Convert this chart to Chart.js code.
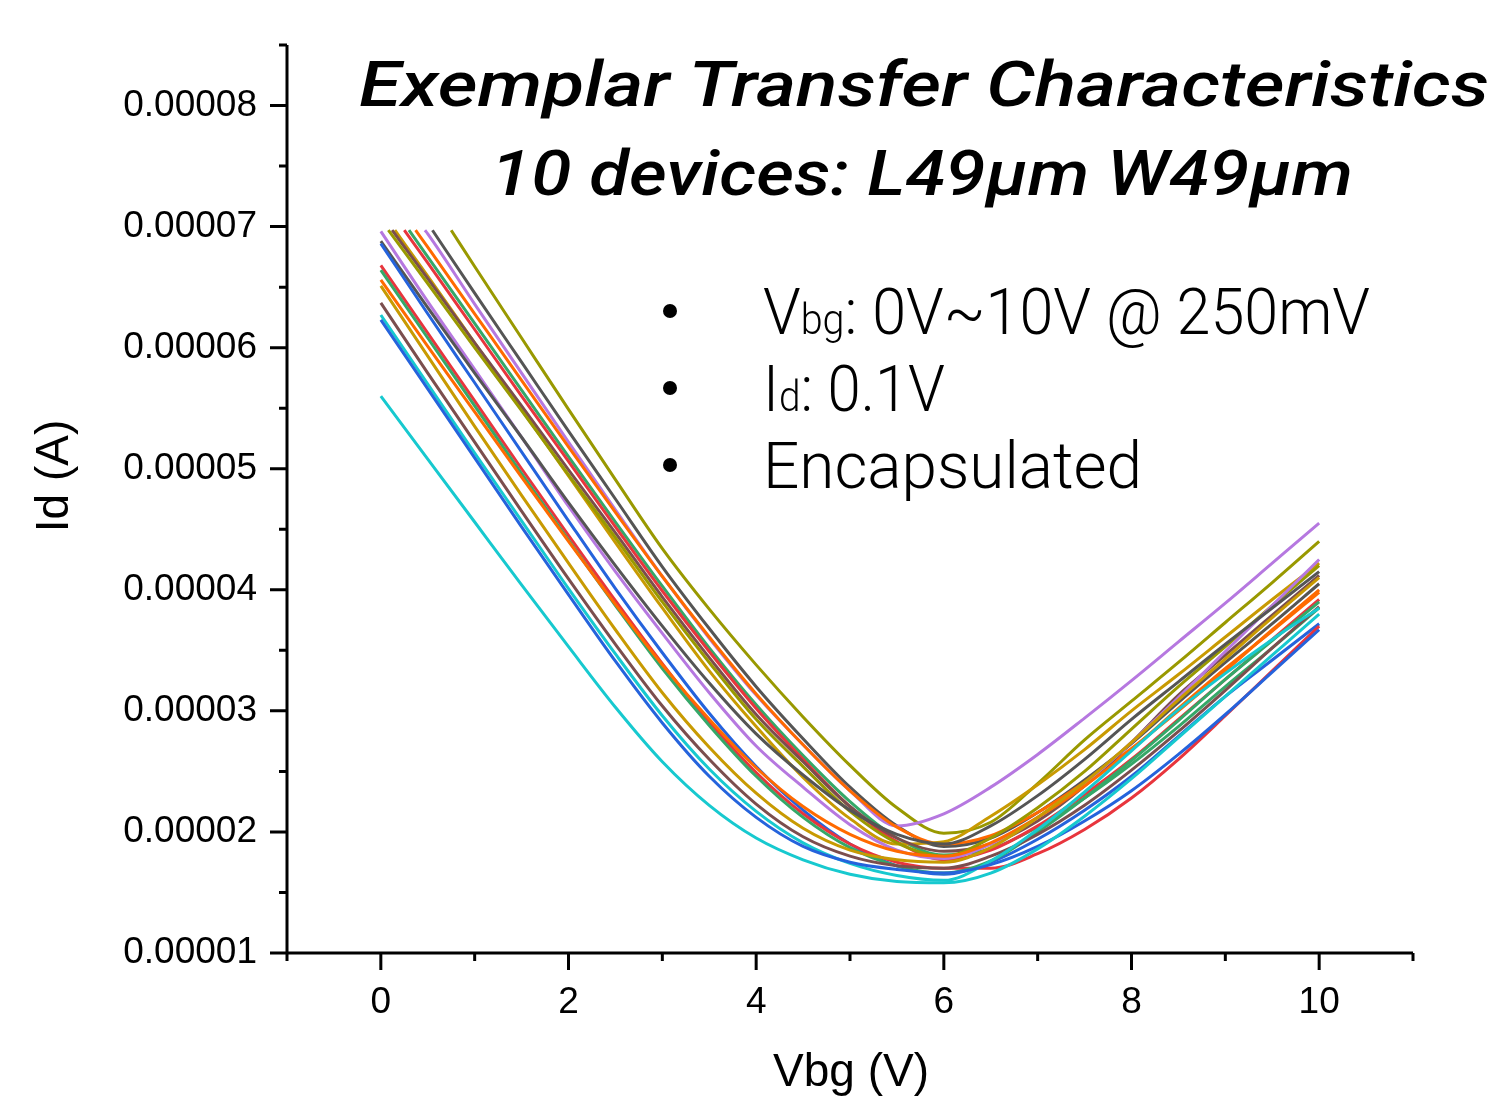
<!DOCTYPE html>
<html>
<head>
<meta charset="utf-8">
<script src="https://cdn.jsdelivr.net/npm/chart.js@4.4.1/dist/chart.umd.min.js"></script>
<style>
  html, body { margin: 0; padding: 0; background: #fff; }
  canvas { display: block; }
</style>
</head>
<body>
<canvas id="transferChart" width="1496" height="1098"></canvas>
<script>
// Vbg sweep (V), 0.5 V grid
const vbg = [0, 0.5, 1, 1.5, 2, 2.5, 3, 3.5, 4, 4.5, 5, 5.5, 6, 6.5, 7, 7.5, 8, 8.5, 9, 9.5, 10];

// Id in units of 1e-5 A; null = trace is above the plotted window there
const cyan1     = [5.60, 5.08, 4.56, 4.04, 3.53, 3.03, 2.58, 2.22, 1.95, 1.77, 1.65, 1.59, 1.58, 1.66, 1.86, 2.13, 2.44, 2.78, 3.12, 3.46, 3.80];
const cyan2     = [6.27, 5.70, 5.13, 4.57, 4.01, 3.47, 2.96, 2.52, 2.17, 1.91, 1.74, 1.64, 1.60, 1.76, 2.02, 2.33, 2.67, 3.01, 3.31, 3.59, 3.85];
const blue1     = [6.23, 5.66, 5.09, 4.52, 3.96, 3.41, 2.90, 2.46, 2.12, 1.88, 1.75, 1.69, 1.66, 1.73, 1.88, 2.09, 2.34, 2.64, 2.97, 3.32, 3.67];
const blue2     = [6.86, 6.28, 5.71, 5.14, 4.57, 4.01, 3.48, 2.98, 2.54, 2.18, 1.90, 1.72, 1.65, 1.75, 1.94, 2.18, 2.46, 2.79, 3.12, 3.42, 3.72];
const red1      = [6.68, 6.12, 5.56, 5.00, 4.45, 3.91, 3.39, 2.91, 2.49, 2.15, 1.90, 1.75, 1.70, 1.70, 1.82, 2.02, 2.28, 2.60, 2.96, 3.33, 3.70];
const red2      = [null, 6.70, 6.15, 5.60, 5.06, 4.52, 3.99, 3.49, 3.02, 2.60, 2.21, 1.92, 1.77, 1.85, 2.05, 2.31, 2.60, 2.93, 3.26, 3.59, 3.92];
const green1    = [6.64, 6.08, 5.52, 4.96, 4.41, 3.87, 3.35, 2.88, 2.46, 2.12, 1.87, 1.72, 1.66, 1.76, 2.00, 2.28, 2.59, 2.92, 3.26, 3.58, 3.90];
const green2    = [null, 6.75, 6.20, 5.65, 5.10, 4.56, 4.03, 3.52, 3.05, 2.63, 2.25, 1.95, 1.81, 1.86, 2.04, 2.28, 2.56, 2.87, 3.20, 3.52, 3.85];
const gold1     = [6.51, 5.93, 5.35, 4.78, 4.22, 3.67, 3.15, 2.70, 2.32, 2.03, 1.85, 1.77, 1.75, 1.87, 2.12, 2.41, 2.74, 3.09, 3.43, 3.77, 4.10];
const gold2     = [null, 6.59, 6.04, 5.49, 4.94, 4.39, 3.85, 3.33, 2.87, 2.45, 2.11, 1.90, 1.92, 2.13, 2.39, 2.68, 3.00, 3.30, 3.61, 3.92, 4.22];
const orange1   = [6.56, 6.01, 5.47, 4.93, 4.40, 3.88, 3.38, 2.93, 2.53, 2.21, 1.98, 1.84, 1.80, 1.91, 2.12, 2.38, 2.68, 3.02, 3.35, 3.66, 3.98];
const orange2   = [null, 6.83, 6.28, 5.73, 5.18, 4.64, 4.11, 3.61, 3.14, 2.72, 2.34, 2.04, 1.90, 1.97, 2.16, 2.41, 2.69, 3.00, 3.33, 3.67, 4.00];
const brown1    = [6.37, 5.79, 5.22, 4.65, 4.09, 3.55, 3.04, 2.60, 2.23, 1.96, 1.80, 1.72, 1.70, 1.80, 1.98, 2.22, 2.51, 2.83, 3.17, 3.52, 3.86];
const brown2    = [null, 6.57, 6.04, 5.52, 4.99, 4.47, 3.94, 3.44, 2.97, 2.58, 2.21, 1.95, 1.84, 1.90, 2.09, 2.38, 2.74, 3.13, 3.46, 3.79, 4.12];
const darkgray1 = [6.88, 6.33, 5.79, 5.26, 4.72, 4.20, 3.70, 3.23, 2.81, 2.47, 2.18, 1.98, 1.90, 2.05, 2.30, 2.60, 2.93, 3.24, 3.55, 3.85, 4.15];
const darkgray2 = [null, null, 6.45, 5.88, 5.31, 4.75, 4.19, 3.68, 3.20, 2.77, 2.37, 2.05, 1.88, 1.95, 2.16, 2.43, 2.73, 3.07, 3.40, 3.72, 4.05];
const purple1   = [6.96, 6.38, 5.82, 5.26, 4.69, 4.15, 3.64, 3.15, 2.71, 2.37, 2.06, 1.85, 1.78, 1.90, 2.12, 2.40, 2.74, 3.11, 3.49, 3.87, 4.25];
const purple2   = [null, 6.94, 6.36, 5.79, 5.22, 4.66, 4.11, 3.60, 3.13, 2.72, 2.34, 2.05, 2.15, 2.37, 2.64, 2.94, 3.25, 3.57, 3.89, 4.22, 4.55];
const olive1    = [null, 6.53, 6.00, 5.48, 4.95, 4.43, 3.90, 3.40, 2.93, 2.54, 2.17, 1.91, 1.80, 1.95, 2.20, 2.50, 2.85, 3.20, 3.53, 3.87, 4.20];
const olive2    = [null, null, 6.67, 6.08, 5.49, 4.91, 4.34, 3.84, 3.38, 2.95, 2.55, 2.20, 1.99, 2.08, 2.40, 2.76, 3.08, 3.40, 3.73, 4.06, 4.40];

// where the cut-off traces enter the window (Vbg), level of the cut (1e-5 A)
const TOP_ID = 6.97;
const entryVbg = {
  red2: 0.25, green2: 0.30, gold2: 0.15, orange2: 0.37, brown2: 0.12,
  darkgray2: 0.55, purple2: 0.47, olive1: 0.08, olive2: 0.75
};

const xTicks = [0, 2, 4, 6, 8, 10];
const xMinor = [-1, 1, 3, 5, 7, 9, 11];
const yTicks = [1, 2, 3, 4, 5, 6, 7, 8];
const yMinor = [1.5, 2.5, 3.5, 4.5, 5.5, 6.5, 7.5, 8.5];

const COLORS = {
  blue: '#2563dc', red: '#e8353d', green: '#35a868', orange: '#ff6a00', purple: '#b678e0',
  olive: '#999900', gold: '#c89a02', darkgray: '#555555', brown: '#7b4e4e', cyan: '#17c9cf'
};

const series = [
  ['cyan1', cyan1, 'cyan'], ['blue1', blue1, 'blue'], ['cyan2', cyan2, 'cyan'],
  ['brown1', brown1, 'brown'], ['gold1', gold1, 'gold'], ['orange1', orange1, 'orange'],
  ['green1', green1, 'green'], ['red1', red1, 'red'], ['blue2', blue2, 'blue'],
  ['darkgray1', darkgray1, 'darkgray'], ['purple1', purple1, 'purple'], ['olive1', olive1, 'olive'],
  ['brown2', brown2, 'brown'], ['gold2', gold2, 'gold'], ['red2', red2, 'red'],
  ['green2', green2, 'green'], ['orange2', orange2, 'orange'], ['purple2', purple2, 'purple'],
  ['darkgray2', darkgray2, 'darkgray'], ['olive2', olive2, 'olive']
];

function toPoints(name, ys) {
  const pts = [];
  if (entryVbg[name] !== undefined) pts.push({ x: entryVbg[name], y: TOP_ID });
  ys.forEach((v, i) => { if (v !== null) pts.push({ x: vbg[i], y: v }); });
  return pts;
}

function fitText(ctx, text, font, cx, base, width) {
  ctx.font = font;
  const w = ctx.measureText(text).width;
  ctx.save();
  ctx.translate(cx, base);
  ctx.scale(width / w, 1);
  ctx.textAlign = 'center';
  ctx.textBaseline = 'alphabetic';
  ctx.fillText(text, 0, 0);
  ctx.restore();
}

// runs of [text, size] drawn one after the other, squeezed to a given width
function drawRuns(ctx, runs, x, base, width) {
  let total = 0;
  for (const [t, size] of runs) {
    ctx.font = '300 ' + size + 'px Roboto';
    total += ctx.measureText(t).width;
  }
  ctx.save();
  ctx.translate(x, base);
  ctx.scale(width / total, 1);
  ctx.textAlign = 'left';
  ctx.textBaseline = 'alphabetic';
  let cx = 0;
  for (const [t, size] of runs) {
    ctx.font = '300 ' + size + 'px Roboto';
    ctx.fillText(t, cx, 0);
    cx += ctx.measureText(t).width;
  }
  ctx.restore();
}

const decorations = {
  id: 'decorations',
  afterDraw(chart) {
    const { ctx, chartArea, scales: { x, y } } = chart;
    ctx.save();
    ctx.strokeStyle = '#000';
    ctx.fillStyle = '#000';
    ctx.lineWidth = 3;

    // axis lines and outward ticks
    ctx.beginPath();
    ctx.moveTo(chartArea.left, chartArea.top);
    ctx.lineTo(chartArea.left, chartArea.bottom);
    ctx.lineTo(chartArea.right, chartArea.bottom);
    for (const v of xTicks) { const p = x.getPixelForValue(v); ctx.moveTo(p, chartArea.bottom); ctx.lineTo(p, chartArea.bottom + 17); }
    for (const v of xMinor) { const p = x.getPixelForValue(v); ctx.moveTo(p, chartArea.bottom); ctx.lineTo(p, chartArea.bottom + 8); }
    for (const v of yTicks) { const p = y.getPixelForValue(v); ctx.moveTo(chartArea.left, p); ctx.lineTo(chartArea.left - 17, p); }
    for (const v of yMinor) { const p = y.getPixelForValue(v); ctx.moveTo(chartArea.left, p); ctx.lineTo(chartArea.left - 8, p); }
    ctx.stroke();

    // axis titles
    ctx.font = '46px "Liberation Sans", Arial, sans-serif';
    ctx.textAlign = 'center';
    ctx.textBaseline = 'middle';
    ctx.fillText('Vbg (V)', 851, 1073);
    ctx.save();
    ctx.translate(55, 476);
    ctx.rotate(-Math.PI / 2);
    ctx.fillText('Id (A)', 0, 0);
    ctx.restore();

    // title
    fitText(ctx, 'Exemplar Transfer Characteristics', 'italic 500 63px Roboto', 924, 106, 1130);
    fitText(ctx, '10 devices: L49\u00b5m W49\u00b5m', 'italic 500 63px Roboto', 922, 195, 862);

    // bullet notes
    const lines = [
      { base: 334, width: 607, runs: [['V', 65], ['bg', 42], [': 0V~10V @ 250mV', 65]] },
      { base: 411, width: 182, runs: [['I', 65], ['d', 42], [': 0.1V', 65]] },
      { base: 488, width: 379, runs: [['Encapsulated', 65]] }
    ];
    for (const ln of lines) {
      ctx.beginPath();
      ctx.arc(670, ln.base - 23, 7, 0, Math.PI * 2);
      ctx.fill();
      drawRuns(ctx, ln.runs, 763, ln.base, ln.width);
    }
    ctx.restore();
  }
};

const ctx = document.getElementById('transferChart').getContext('2d');
new Chart(ctx, {
  type: 'line',
  data: {
    datasets: series.map(([name, ys, c]) => ({
      label: name,
      data: toPoints(name, ys),
      borderColor: COLORS[c],
      borderWidth: 3,
      pointRadius: 0,
      fill: false,
      cubicInterpolationMode: 'monotone'
    }))
  },
  options: {
    responsive: false,
    animation: false,
    layout: { padding: { left: 0, right: 83, top: 45, bottom: 0 } },
    plugins: { legend: { display: false }, tooltip: { enabled: false } },
    scales: {
      x: {
        type: 'linear',
        min: -1,
        max: 11,
        grid: { display: false, drawTicks: false },
        border: { display: false },
        afterFit: (s) => { s.height = 145; s.paddingLeft = 0; s.paddingRight = 0; },
        afterBuildTicks: (s) => { s.ticks = xTicks.map(v => ({ value: v })); },
        ticks: {
          padding: 28,
          color: '#000',
          font: { family: '"Liberation Sans", Arial, sans-serif', size: 37 },
          maxRotation: 0,
          callback: (v) => String(v)
        }
      },
      y: {
        type: 'linear',
        min: 1,
        max: 8.5,
        grid: { display: false, drawTicks: false },
        border: { display: false },
        afterFit: (s) => { s.width = 287; s.paddingTop = 0; s.paddingBottom = 0; },
        afterBuildTicks: (s) => { s.ticks = yTicks.map(v => ({ value: v })); },
        ticks: {
          padding: 30,
          color: '#000',
          font: { family: '"Liberation Sans", Arial, sans-serif', size: 37 },
          callback: (v) => (v * 1e-5).toFixed(5)
        }
      }
    }
  },
  plugins: [decorations]
});
</script>
</body>
</html>
